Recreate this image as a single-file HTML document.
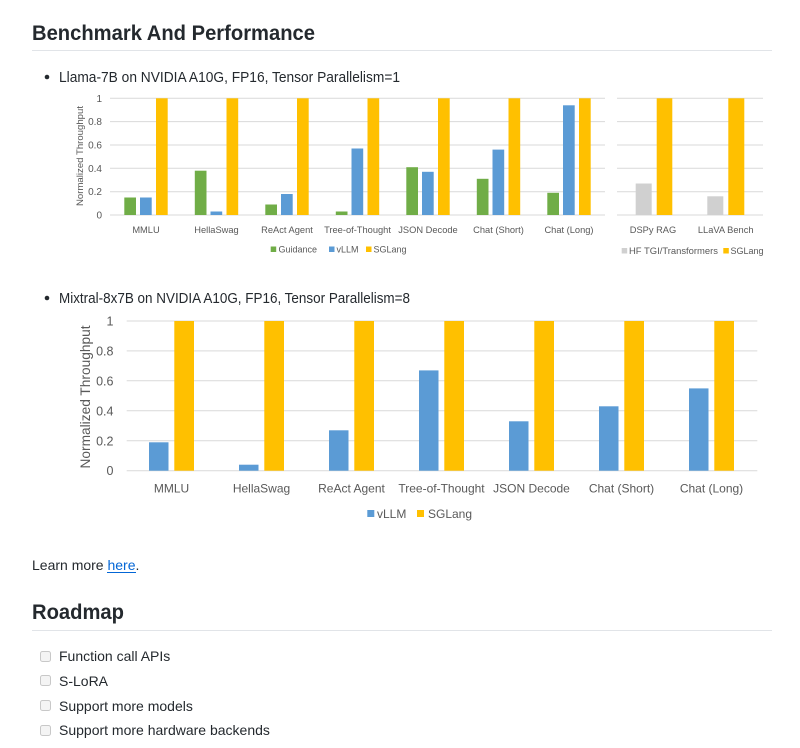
<!DOCTYPE html>
<html><head><meta charset="utf-8"><style>
html,body{margin:0;padding:0;background:#fff;}
svg{display:block;font-family:"Liberation Sans",sans-serif;}
</style></head><body>
<svg width="800" height="748" viewBox="0 0 800 748" xmlns="http://www.w3.org/2000/svg">
<rect width="800" height="748" fill="#fff"/>
<text x="32" y="40" font-size="21" font-weight="bold" fill="#24292e" textLength="283" lengthAdjust="spacingAndGlyphs">Benchmark And Performance</text>
<line x1="32" y1="50.5" x2="772" y2="50.5" stroke="#e1e4e8" stroke-width="1"/>
<circle cx="47" cy="77" r="2.3" fill="#24292e"/>
<text x="59" y="82" font-size="14.5" fill="#24292e" textLength="341" lengthAdjust="spacingAndGlyphs">Llama-7B on NVIDIA A10G, FP16, Tensor Parallelism=1</text>

<!-- Chart 1 -->
<g stroke="#d9d9d9" stroke-width="1">
<line x1="110" y1="98.3" x2="605" y2="98.3"/><line x1="110" y1="121.6" x2="605" y2="121.6"/><line x1="110" y1="145" x2="605" y2="145"/><line x1="110" y1="168.3" x2="605" y2="168.3"/><line x1="110" y1="191.7" x2="605" y2="191.7"/><line x1="110" y1="215" x2="605" y2="215"/>
<line x1="617" y1="98.3" x2="763" y2="98.3"/><line x1="617" y1="121.6" x2="763" y2="121.6"/><line x1="617" y1="145" x2="763" y2="145"/><line x1="617" y1="168.3" x2="763" y2="168.3"/><line x1="617" y1="191.7" x2="763" y2="191.7"/><line x1="617" y1="215" x2="763" y2="215"/>
</g>
<g font-size="10" fill="#595959" text-anchor="end">
<text x="102" y="101.8">1</text><text x="102" y="125.1">0.8</text><text x="102" y="148.5">0.6</text><text x="102" y="171.8">0.4</text><text x="102" y="195.2">0.2</text><text x="102" y="218.5">0</text>
</g>
<text transform="translate(83,156) rotate(-90)" font-size="9" fill="#595959" text-anchor="middle" textLength="100" lengthAdjust="spacingAndGlyphs">Normalized Throughput</text>
<g fill="#70ad47">
<rect x="124.3" y="197.5" width="11.7" height="17.5"/><rect x="194.8" y="170.7" width="11.7" height="44.3"/><rect x="265.3" y="204.5" width="11.7" height="10.5"/><rect x="335.8" y="211.5" width="11.7" height="3.5"/><rect x="406.3" y="167.2" width="11.7" height="47.8"/><rect x="476.8" y="178.8" width="11.7" height="36.2"/><rect x="547.3" y="192.8" width="11.7" height="22.2"/>
</g>
<g fill="#5b9bd5">
<rect x="140" y="197.5" width="11.7" height="17.5"/><rect x="210.5" y="211.5" width="11.7" height="3.5"/><rect x="281" y="194" width="11.7" height="21"/><rect x="351.5" y="148.5" width="11.7" height="66.5"/><rect x="422" y="171.8" width="11.7" height="43.2"/><rect x="492.5" y="149.6" width="11.7" height="65.4"/><rect x="563" y="105.3" width="11.7" height="109.7"/>
</g>
<g fill="#ffc000">
<rect x="156" y="98.3" width="11.7" height="116.7"/><rect x="226.5" y="98.3" width="11.7" height="116.7"/><rect x="297" y="98.3" width="11.7" height="116.7"/><rect x="367.5" y="98.3" width="11.7" height="116.7"/><rect x="438" y="98.3" width="11.7" height="116.7"/><rect x="508.5" y="98.3" width="11.7" height="116.7"/><rect x="579" y="98.3" width="11.7" height="116.7"/>
<rect x="656.7" y="98.3" width="15.6" height="116.7"/><rect x="728.3" y="98.3" width="16" height="116.7"/>
</g>
<g fill="#d0d0d0">
<rect x="635.7" y="183.5" width="16" height="31.5"/><rect x="707.3" y="196.3" width="16" height="18.7"/>
</g>
<g font-size="9.3" fill="#595959" text-anchor="middle">
<text x="146" y="233">MMLU</text><text x="216.5" y="233">HellaSwag</text><text x="287" y="233">ReAct Agent</text><text x="357.5" y="233">Tree-of-Thought</text><text x="428" y="233">JSON Decode</text><text x="498.5" y="233">Chat (Short)</text><text x="569" y="233">Chat (Long)</text>
<text x="653" y="233">DSPy RAG</text><text x="725.7" y="233">LLaVA Bench</text>
</g>
<g font-size="9" fill="#595959">
<rect x="270.7" y="246.5" width="5.5" height="5.5" fill="#70ad47"/><text x="278.5" y="252.5">Guidance</text>
<rect x="329" y="246.5" width="5.5" height="5.5" fill="#5b9bd5"/><text x="336.5" y="252.5">vLLM</text>
<rect x="366" y="246.5" width="5.5" height="5.5" fill="#ffc000"/><text x="373.5" y="252.5">SGLang</text>
<rect x="621.7" y="248" width="5.5" height="5.5" fill="#d0d0d0"/><text x="629" y="254" textLength="89" lengthAdjust="spacingAndGlyphs">HF TGI/Transformers</text>
<rect x="723.3" y="248" width="5.5" height="5.5" fill="#ffc000"/><text x="730.5" y="254">SGLang</text>
</g>

<!-- Chart 2 -->
<circle cx="47" cy="298" r="2.3" fill="#24292e"/>
<text x="59" y="303" font-size="14.5" fill="#24292e" textLength="351" lengthAdjust="spacingAndGlyphs">Mixtral-8x7B on NVIDIA A10G, FP16, Tensor Parallelism=8</text>
<g stroke="#d9d9d9" stroke-width="1">
<line x1="126.7" y1="321" x2="757.3" y2="321"/><line x1="126.7" y1="350.9" x2="757.3" y2="350.9"/><line x1="126.7" y1="380.8" x2="757.3" y2="380.8"/><line x1="126.7" y1="410.8" x2="757.3" y2="410.8"/><line x1="126.7" y1="440.8" x2="757.3" y2="440.8"/><line x1="126.7" y1="470.7" x2="757.3" y2="470.7"/>
</g>
<g font-size="12.5" fill="#595959" text-anchor="end">
<text x="113.5" y="325.5">1</text><text x="113.5" y="355.4">0.8</text><text x="113.5" y="385.3">0.6</text><text x="113.5" y="415.3">0.4</text><text x="113.5" y="445.3">0.2</text><text x="113.5" y="475.2">0</text>
</g>
<text transform="translate(90,397) rotate(-90)" font-size="13.5" fill="#595959" text-anchor="middle" textLength="143" lengthAdjust="spacingAndGlyphs">Normalized Throughput</text>
<g fill="#5b9bd5">
<rect x="149" y="442.3" width="19.5" height="28.4"/><rect x="239" y="464.7" width="19.5" height="6"/><rect x="329" y="430.3" width="19.5" height="40.4"/><rect x="419" y="370.4" width="19.5" height="100.3"/><rect x="509" y="421.3" width="19.5" height="49.4"/><rect x="599" y="406.3" width="19.5" height="64.4"/><rect x="689" y="388.4" width="19.5" height="82.3"/>
</g>
<g fill="#ffc000">
<rect x="174.3" y="321" width="19.7" height="149.7"/><rect x="264.3" y="321" width="19.7" height="149.7"/><rect x="354.3" y="321" width="19.7" height="149.7"/><rect x="444.3" y="321" width="19.7" height="149.7"/><rect x="534.3" y="321" width="19.7" height="149.7"/><rect x="624.3" y="321" width="19.7" height="149.7"/><rect x="714.3" y="321" width="19.7" height="149.7"/>
</g>
<g font-size="12" fill="#595959" text-anchor="middle">
<text x="171.5" y="492.5">MMLU</text><text x="261.5" y="492.5">HellaSwag</text><text x="351.5" y="492.5">ReAct Agent</text><text x="441.5" y="492.5">Tree-of-Thought</text><text x="531.5" y="492.5">JSON Decode</text><text x="621.5" y="492.5">Chat (Short)</text><text x="711.5" y="492.5">Chat (Long)</text>
</g>
<g font-size="12" fill="#595959">
<rect x="367.3" y="510" width="7" height="7" fill="#5b9bd5"/><text x="377" y="518">vLLM</text>
<rect x="417" y="510" width="7" height="7" fill="#ffc000"/><text x="428" y="518">SGLang</text>
</g>

<text x="32" y="570" font-size="14" fill="#24292e">Learn more <tspan fill="#0366d6">here</tspan>.</text>
<line x1="107" y1="572.5" x2="136" y2="572.5" stroke="#0366d6" stroke-width="1"/>

<text x="32" y="619" font-size="21" font-weight="bold" fill="#24292e" textLength="92" lengthAdjust="spacingAndGlyphs">Roadmap</text>
<line x1="32" y1="630.5" x2="772" y2="630.5" stroke="#e1e4e8" stroke-width="1"/>
<g fill="#f4f4f4" stroke="#c8c8c8" stroke-width="1">
<rect x="40.5" y="651.5" width="10" height="10" rx="2"/>
<rect x="40.5" y="675.5" width="10" height="10" rx="2"/>
<rect x="40.5" y="700.5" width="10" height="10" rx="2"/>
<rect x="40.5" y="725.5" width="10" height="10" rx="2"/>
</g>
<g font-size="14" fill="#24292e">
<text x="59" y="661">Function call APIs</text>
<text x="59" y="686">S-LoRA</text>
<text x="59" y="711">Support more models</text>
<text x="59" y="735">Support more hardware backends</text>
</g>
</svg>
</body></html>
